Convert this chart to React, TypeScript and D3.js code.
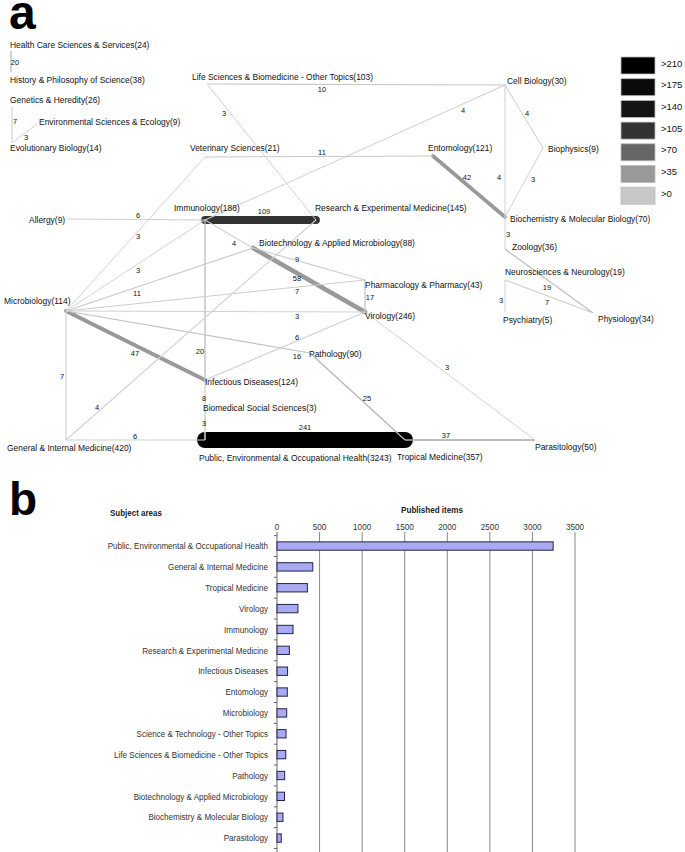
import React, { useRef, useEffect } from 'react';
import * as d3 from 'd3';

// ---- panel a: subject areas (papers) and co-classification links ----
const nodes: [string, number][] = [
  ['Health Care Sciences & Services', 24],
  ['History & Philosophy of Science', 38],
  ['Genetics & Heredity', 26],
  ['Environmental Sciences & Ecology', 9],
  ['Evolutionary Biology', 14],
  ['Life Sciences & Biomedicine - Other Topics', 103],
  ['Cell Biology', 30],
  ['Veterinary Sciences', 21],
  ['Entomology', 121],
  ['Biophysics', 9],
  ['Biochemistry & Molecular Biology', 70],
  ['Zoology', 36],
  ['Neurosciences & Neurology', 19],
  ['Psychiatry', 5],
  ['Physiology', 34],
  ['Allergy', 9],
  ['Immunology', 188],
  ['Research & Experimental Medicine', 145],
  ['Biotechnology & Applied Microbiology', 88],
  ['Pharmacology & Pharmacy', 43],
  ['Virology', 246],
  ['Microbiology', 114],
  ['Pathology', 90],
  ['Infectious Diseases', 124],
  ['Biomedical Social Sciences', 3],
  ['General & Internal Medicine', 420],
  ['Public, Environmental & Occupational Health', 3243],
  ['Tropical Medicine', 357],
  ['Parasitology', 50],
];

const links: [string, string, number][] = [
  ['Health Care Sciences & Services', 'History & Philosophy of Science', 20],
  ['Genetics & Heredity', 'Evolutionary Biology', 7],
  ['Evolutionary Biology', 'Environmental Sciences & Ecology', 3],
  ['Life Sciences & Biomedicine - Other Topics', 'Cell Biology', 10],
  ['Life Sciences & Biomedicine - Other Topics', 'Research & Experimental Medicine', 3],
  ['Cell Biology', 'Immunology', 4],
  ['Cell Biology', 'Biophysics', 4],
  ['Cell Biology', 'Biochemistry & Molecular Biology', 4],
  ['Biophysics', 'Biochemistry & Molecular Biology', 3],
  ['Veterinary Sciences', 'Entomology', 11],
  ['Veterinary Sciences', 'Microbiology', 3],
  ['Entomology', 'Biochemistry & Molecular Biology', 42],
  ['Biochemistry & Molecular Biology', 'Zoology', 3],
  ['Zoology', 'Physiology', 19],
  ['Neurosciences & Neurology', 'Physiology', 7],
  ['Neurosciences & Neurology', 'Psychiatry', 3],
  ['Allergy', 'Immunology', 6],
  ['Immunology', 'Research & Experimental Medicine', 109],
  ['Immunology', 'Biotechnology & Applied Microbiology', 4],
  ['Immunology', 'Microbiology', 3],
  ['Immunology', 'Infectious Diseases', 20],
  ['Microbiology', 'Biotechnology & Applied Microbiology', 11],
  ['Microbiology', 'Pharmacology & Pharmacy', 7],
  ['Microbiology', 'Virology', 3],
  ['Microbiology', 'Pathology', 16],
  ['Microbiology', 'Infectious Diseases', 47],
  ['Microbiology', 'General & Internal Medicine', 7],
  ['Biotechnology & Applied Microbiology', 'Pharmacology & Pharmacy', 9],
  ['Biotechnology & Applied Microbiology', 'Virology', 58],
  ['Pharmacology & Pharmacy', 'Virology', 17],
  ['Infectious Diseases', 'Virology', 6],
  ['Virology', 'Parasitology', 3],
  ['General & Internal Medicine', 'Research & Experimental Medicine', 4],
  ['General & Internal Medicine', 'Public, Environmental & Occupational Health', 6],
  ['Infectious Diseases', 'Public, Environmental & Occupational Health', 8],
  ['Biomedical Social Sciences', 'Public, Environmental & Occupational Health', 3],
  ['Public, Environmental & Occupational Health', 'Tropical Medicine', 241],
  ['Pathology', 'Tropical Medicine', 25],
  ['Tropical Medicine', 'Parasitology', 37],
];

const legendLabels = ['>210', '>175', '>140', '>105', '>70', '>35', '>0'];
const legendColors = ['#000000', '#0a0a0a', '#141414', '#333333', '#666666', '#999999', '#c8c8c8'];

// ---- panel b: published items per subject area ----
const barCategories = [
  'Public, Environmental & Occupational Health',
  'General & Internal Medicine',
  'Tropical Medicine',
  'Virology',
  'Immunology',
  'Research & Experimental Medicine',
  'Infectious Diseases',
  'Entomology',
  'Microbiology',
  'Science & Technology - Other Topics',
  'Life Sciences & Biomedicine - Other Topics',
  'Pathology',
  'Biotechnology & Applied Microbiology',
  'Biochemistry & Molecular Biology',
  'Parasitology',
];
const barValues = [3243, 420, 357, 246, 188, 145, 124, 121, 114, 106, 103, 90, 88, 70, 50];
const xTicks = [0, 500, 1000, 1500, 2000, 2500, 3000, 3500];

// hand layout of the network: node anchor x,y then label start x, middle y
const layout: Record<string, [number, number, number, number]> = {
  'Health Care Sciences & Services': [11, 51, 10, 45],
  'History & Philosophy of Science': [11, 72, 10, 80],
  'Genetics & Heredity': [12, 107, 10, 100],
  'Environmental Sciences & Ecology': [37, 124, 39, 122],
  'Evolutionary Biology': [12, 143, 10, 148],
  'Life Sciences & Biomedicine - Other Topics': [207, 84, 192, 77],
  'Cell Biology': [505, 85, 507, 81],
  'Veterinary Sciences': [205, 157, 190, 148],
  'Entomology': [433, 156, 428, 148],
  'Biophysics': [543, 148, 548, 149],
  'Biochemistry & Molecular Biology': [505, 217, 510, 219],
  'Zoology': [505, 249, 512, 247],
  'Neurosciences & Neurology': [505, 280, 505, 272],
  'Psychiatry': [505, 312, 503, 320],
  'Physiology': [593, 313, 598, 319],
  'Allergy': [67, 219, 29, 220],
  'Immunology': [205, 220, 174, 208],
  'Research & Experimental Medicine': [316, 220, 315, 208],
  'Biotechnology & Applied Microbiology': [253, 248, 259, 243],
  'Pharmacology & Pharmacy': [365, 280, 365, 285],
  'Virology': [365, 312, 365, 316],
  'Microbiology': [66, 311, 4, 301],
  'Pathology': [310, 353, 309, 354],
  'Infectious Diseases': [205, 380, 205, 382],
  'Biomedical Social Sciences': [205, 412, 203, 408],
  'General & Internal Medicine': [66, 440, 7, 448],
  'Public, Environmental & Occupational Health': [205, 440, 199, 458],
  'Tropical Medicine': [405, 440, 397, 457],
  'Parasitology': [535, 440, 535, 447],
};
// where each link's count is written, same order as links
const linkLabelAt: [number, number][] = [
  [15, 62], [15, 121], [26, 137], [322, 89], [224, 113], [463, 110], [527, 113],
  [499, 177], [533, 179], [322, 152], [138, 236], [467, 177], [508, 234], [547, 287],
  [547, 302], [501, 300], [138, 215], [264, 211], [234, 243], [138, 270], [200, 351],
  [137, 293], [297, 291], [297, 316], [297, 356], [135, 353], [62, 376], [297, 259],
  [297, 278], [370, 297], [297, 337], [447, 367], [97, 407], [135, 436], [204, 398],
  [204, 423], [305, 427], [367, 398], [446, 435],
];

const FONT = "'Liberation Sans', Arial, sans-serif";

const App = () => {
  const svgRef = useRef<SVGSVGElement>(null);

  useEffect(() => {
    const svg = d3.select(svgRef.current);
    svg.selectAll('*').remove();

    // heavy links use the legend bins, light ones fade from pale to mid grey
    const heavy = d3.scaleThreshold<number, string>()
      .domain([70, 105, 140, 175, 210])
      .range(['#999999', '#666666', '#333333', '#141414', '#0a0a0a', '#000000']);
    const light = d3.scaleLinear<string>().domain([3, 37]).range(['#d2d2d2', '#a8a8a8']).clamp(true);
    const color = (w: number) => (w >= 40 ? heavy(w) : light(w));
    const width = d3.scaleLinear().domain([0, 241]).range([1, 16]);
    const lightWidth = d3.scaleLinear().domain([3, 37]).range([1, 1.6]).clamp(true);

    // squeezed text, the figure's lettering is narrow
    const squeeze = (x: number, y: number, s: number) => `translate(${x},${y}) scale(${s},1)`;

    // ---------- a ----------
    const a = svg.append('g');
    a.append('text').attr('x', 9).attr('y', 29).text('a')
      .attr('font-family', 'Arial, sans-serif').attr('font-weight', 'bold').attr('font-size', 48);

    const linkData = links.map((l, i) => ({ s: layout[l[0]], t: layout[l[1]], w: l[2], at: linkLabelAt[i] }));
    // heavy first, so the thin links run over the ends of the thick ones
    a.selectAll('.link')
      .data([...linkData].sort((p, q) => q.w - p.w))
      .enter().append('line')
      .attr('class', 'link')
      .attr('x1', d => d.s[0]).attr('y1', d => d.s[1])
      .attr('x2', d => d.t[0]).attr('y2', d => d.t[1])
      .attr('stroke', d => color(d.w))
      .attr('stroke-width', d => (d.w >= 40 ? width(d.w) : lightWidth(d.w)))
      .attr('stroke-linecap', d => (d.w >= 40 ? 'round' : 'butt'));

    a.selectAll('.link-label')
      .data(linkData)
      .enter().append('text')
      .attr('x', d => d.at[0]).attr('y', d => d.at[1])
      .attr('text-anchor', 'middle').attr('dominant-baseline', 'central')
      .attr('font-family', FONT).attr('font-size', 7.5).attr('fill', '#111')
      .text(d => d.w);

    a.selectAll('.node-label')
      .data(nodes)
      .enter().append('text')
      .attr('transform', d => squeeze(layout[d[0]][2], layout[d[0]][3], 0.89))
      .attr('dominant-baseline', 'central')
      .attr('font-family', FONT).attr('font-size', 9.5).attr('fill', '#111')
      .text(d => `${d[0]}(${d[1]})`);

    const lg = a.append('g').attr('transform', 'translate(621,57)');
    const step = 21.7;
    lg.selectAll('rect')
      .data(legendLabels)
      .enter().append('rect')
      .attr('x', 0).attr('y', (d, i) => i * step)
      .attr('width', 34).attr('height', 17)
      .attr('fill', (d, i) => legendColors[i])
      .attr('stroke', '#bbb').attr('stroke-width', 0.8);
    lg.selectAll('text')
      .data(legendLabels)
      .enter().append('text')
      .attr('x', 40).attr('y', (d, i) => i * step + 6)
      .attr('dominant-baseline', 'central')
      .attr('font-family', FONT).attr('font-size', 9.5).attr('fill', '#111')
      .text(d => d);

    // ---------- b ----------
    const b = svg.append('g');
    b.append('text').attr('x', 9).attr('y', 515).text('b')
      .attr('font-family', 'Arial, sans-serif').attr('font-weight', 'bold').attr('font-size', 46);

    const x = d3.scaleLinear().domain([0, 3500]).range([277, 575]);
    const y = d3.scaleBand().domain(barCategories).range([535.6, 848.5])
      .paddingInner(0.6).paddingOuter(0.3);

    b.append('text').attr('transform', squeeze(110, 513, 0.84)).text('Subject areas')
      .attr('dominant-baseline', 'central')
      .attr('font-family', FONT).attr('font-weight', 'bold').attr('font-size', 9.5).attr('fill', '#222');
    b.append('text').attr('transform', squeeze(432, 510, 0.85)).text('Published items')
      .attr('text-anchor', 'middle').attr('dominant-baseline', 'central')
      .attr('font-family', FONT).attr('font-weight', 'bold').attr('font-size', 9.5).attr('fill', '#222');

    b.selectAll('.grid')
      .data(xTicks.slice(1))
      .enter().append('line')
      .attr('x1', d => x(d)).attr('x2', d => x(d))
      .attr('y1', 532).attr('y2', 852)
      .attr('stroke', '#888').attr('stroke-width', 1);
    b.selectAll('.xtick')
      .data(xTicks)
      .enter().append('text')
      .attr('transform', d => squeeze(x(d), 527, 0.86))
      .attr('text-anchor', 'middle').attr('dominant-baseline', 'central')
      .attr('font-family', FONT).attr('font-size', 9.5).attr('fill', '#333')
      .text(d => d);

    b.append('line').attr('x1', x(0)).attr('x2', x(0)).attr('y1', 532).attr('y2', 852)
      .attr('stroke', '#666');
    b.selectAll('.ytick')
      .data(d3.range(barCategories.length + 1))
      .enter().append('line')
      .attr('x1', x(0) - 3).attr('x2', x(0))
      .attr('y1', i => 535.6 + i * y.step()).attr('y2', i => 535.6 + i * y.step())
      .attr('stroke', '#666');

    b.selectAll('.bar')
      .data(barCategories)
      .enter().append('rect')
      .attr('x', x(0)).attr('y', d => y(d)!)
      .attr('width', (d, i) => x(barValues[i]) - x(0))
      .attr('height', y.bandwidth())
      .attr('fill', '#aaaaf2').attr('stroke', '#22224a').attr('stroke-width', 1);

    b.selectAll('.ylabel')
      .data(barCategories)
      .enter().append('text')
      .attr('transform', d => squeeze(268, y(d)! + y.bandwidth() / 2, 0.85))
      .attr('text-anchor', 'end').attr('dominant-baseline', 'central')
      .attr('font-family', FONT).attr('font-size', 9.5).attr('fill', '#333')
      .text(d => d);
  }, []);

  return (
    <svg ref={svgRef} width={685} height={852}
      style={{ position: 'absolute', left: 0, top: 0, background: '#fff' }} />
  );
};

export default App;
